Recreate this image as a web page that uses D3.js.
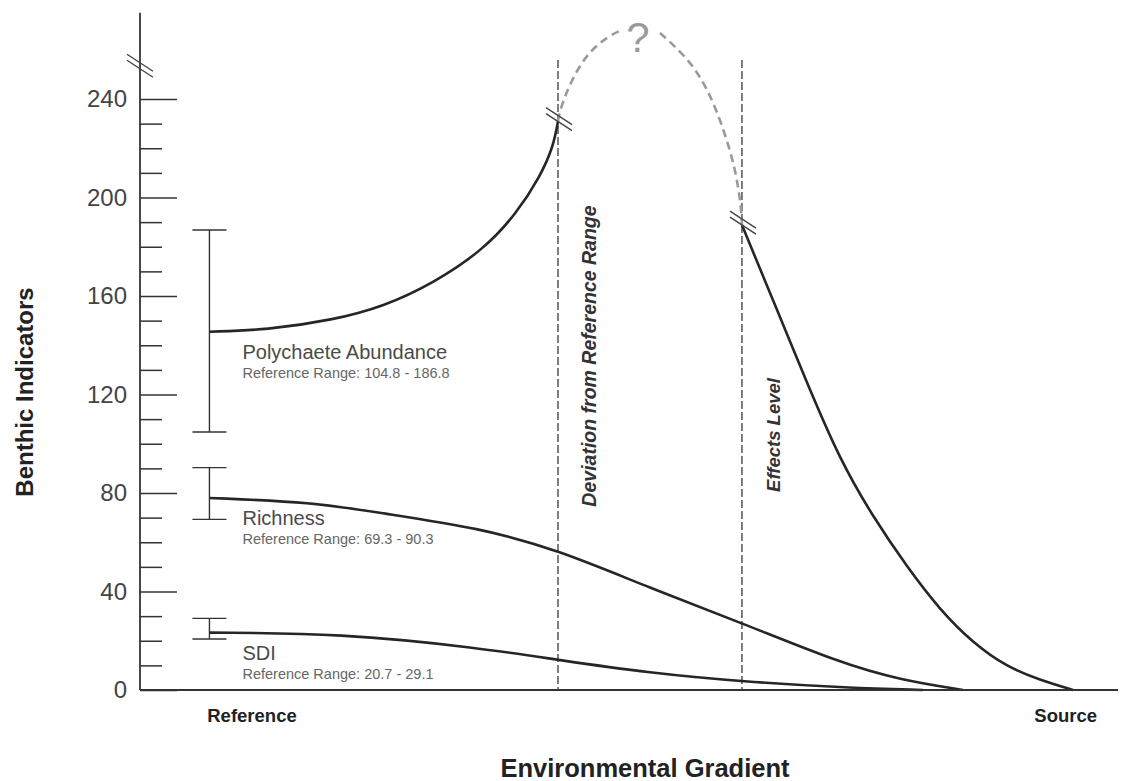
<!DOCTYPE html>
<html>
<head>
<meta charset="utf-8">
<title>Benthic Indicators</title>
<script src="https://cdn.jsdelivr.net/npm/d3@7"></script>
<style>
    body { margin: 0; background: #fff; }
    svg { display: block; font-family: "Liberation Sans", Arial, sans-serif; }
</style>
</head>
<body>
<div id="chartdiv"></div>
<script>
/*global d3 */

//gradient position (0 = far reference, 100 = past source) vs indicator value
var polyRise = [[7.1, 145.5], [12.95, 146.2], [19.77, 150.3], [24.88, 155.7],
                [30.0, 165.2], [35.11, 178.7], [38.52, 193.6], [40.9, 208.4],
                [42.26, 220.6], [42.74, 231]];
var polyFall = [[61.55, 188.8], [64.72, 158.4], [68.2, 124.7], [71.57, 93.4],
                [74.95, 70.3], [78.43, 50], [81.8, 32.5], [85.17, 19.1],
                [88.65, 9.3], [92.02, 4.1], [95.4, 0]];
var unknownLeft = [[42.74, 231], [42.94, 235.5], [43.97, 246.5], [45.71, 258.7],
                   [48.06, 266], [49.28, 268]];
var unknownRight = [[53.17, 266.8], [55.93, 257], [57.98, 244.9], [59.61, 228.6],
                    [60.84, 212.4], [61.45, 197], [61.55, 189]];
var richness = [[7.1, 78], [17.69, 76.3], [24.54, 71.9], [34.76, 65.8],
                [42.74, 56.9], [52.15, 41.4], [61.55, 27.2], [71.57, 11],
                [77.7, 4.1], [84.15, 0]];
var sdi = [[7.1, 23.3], [20.45, 23], [34.76, 17.1], [42.74, 12.2],
           [52.15, 6.9], [61.55, 3.4], [72.6, 0.8], [80.06, 0]];

var seriesNames = ["Polychaete Abundance", "Richness", "SDI"];
var refRanges = [[104.8, 186.8], [69.3, 90.3], [20.7, 29.1]];
var seriesStart = [145.5, 78, 23.3];
var refX = 7.1;
var deviationX = 42.74;
var effectsX = 61.55;
var breakPoints = [[42.74, 231], [61.55, 189]];
var majorTicks = [0, 40, 80, 120, 160, 200, 240];
var minorTicks = [10, 20, 30, 50, 60, 70, 90, 100, 110, 130, 140, 150,
                  170, 180, 190, 210, 220, 230];
var gradientLabels = ["Reference", "Source"];
var gradientLabelAt = [11.4, 94.6];


(function () {
    "use strict";

    var ch = {w: 1125, h: 781};

    function fmtRange (r) {
        return "Reference Range: " + r[0].toFixed(1) + " - " + r[1].toFixed(1);
    }


    //pair of short parallel slashes marking an axis/curve break
    function drawBreak (cx, cy) {
        var dx = 13, dy = 8.5;
        [-3, 3].forEach(function (off) {
            ch.svg.append("line")
                .attr("x1", cx - dx).attr("y1", cy - dy + off)
                .attr("x2", cx + dx).attr("y2", cy + dy + off)
                .attr("stroke", "#444").attr("stroke-width", 1.4);
        });
    }


    function drawAxes () {
        var yMajor, yMinor, xAx;
        ch.svg.append("line")  //y axis runs above 240 up to the break
            .attr("x1", ch.x(0)).attr("x2", ch.x(0))
            .attr("y1", ch.y(275)).attr("y2", ch.y(0))
            .attr("stroke", "#333").attr("stroke-width", 1.8);
        drawBreak(ch.x(0), ch.y(253.5));
        yMinor = d3.axisLeft(ch.y).tickValues(minorTicks)
            .tickSize(-22).tickFormat("");
        ch.svg.append("g").attr("class", "axis axis--minor")
            .attr("transform", "translate(" + ch.x(0) + ",0)")
            .call(yMinor);
        yMajor = d3.axisLeft(ch.y).tickValues(majorTicks)
            .tickSizeInner(-37).tickSizeOuter(0).tickPadding(13)
            .tickFormat(d3.format("d"));
        ch.svg.append("g").attr("class", "axis axis--major")
            .attr("transform", "translate(" + ch.x(0) + ",0)")
            .call(yMajor);
        ch.svg.selectAll(".axis--minor .domain, .axis--major .domain").remove();
        ch.svg.selectAll(".axis line")
            .attr("stroke", "#333").attr("stroke-width", 1.5);
        ch.svg.selectAll(".axis--major text")
            .attr("font-size", 24).attr("fill", "#444")
            .attr("font-family", "Liberation Sans, Arial, sans-serif");
        ch.svg.append("line")  //x axis
            .attr("x1", ch.x(0)).attr("x2", ch.x(100))
            .attr("y1", ch.y(0)).attr("y2", ch.y(0))
            .attr("stroke", "#333").attr("stroke-width", 1.8);
        xAx = d3.axisBottom(ch.x).tickValues(gradientLabelAt)
            .tickSize(0).tickPadding(19)
            .tickFormat(function (d, i) { return gradientLabels[i]; });
        ch.svg.append("g").attr("class", "xlabels")
            .attr("transform", "translate(0," + ch.y(0) + ")")
            .call(xAx);
        ch.svg.select(".xlabels .domain").remove();
        ch.svg.selectAll(".xlabels text")
            .attr("font-size", 18.5).attr("font-weight", "bold")
            .attr("fill", "#222")
            .attr("font-family", "Liberation Sans, Arial, sans-serif");
        ch.svg.append("text")
            .attr("transform", "translate(33,392) rotate(-90)")
            .attr("text-anchor", "middle")
            .attr("font-size", 24).attr("font-weight", "bold")
            .attr("fill", "#222")
            .text("Benthic Indicators");
        ch.svg.append("text")
            .attr("x", 645).attr("y", 777)
            .attr("text-anchor", "middle")
            .attr("font-size", 25.5).attr("font-weight", "bold")
            .attr("fill", "#222")
            .text("Environmental Gradient");
    }


    function drawGuides () {
        [[deviationX, "Deviation from Reference Range", 356, 19.5],
         [effectsX, "Effects Level", 435, 18.5]].forEach(function (g) {
            ch.svg.append("line")
                .attr("x1", ch.x(g[0])).attr("x2", ch.x(g[0]))
                .attr("y1", 60).attr("y2", ch.y(0))
                .attr("stroke", "#2a2a2a").attr("stroke-width", 1.2)
                .attr("stroke-dasharray", "8,3");
            ch.svg.append("text")
                .attr("transform", "translate(" + (ch.x(g[0]) + 38) + "," +
                      g[2] + ") rotate(-90)")
                .attr("text-anchor", "middle")
                .attr("font-size", g[3]).attr("font-weight", "bold")
                .attr("font-style", "italic").attr("fill", "#333")
                .text(g[1]);
        });
    }


    function drawSeries () {
        var line = d3.line()
            .x(function (d) { return ch.x(d[0]); })
            .y(function (d) { return ch.y(d[1]); })
            .curve(d3.curveBasis);
        [polyRise, polyFall, richness, sdi].forEach(function (pts) {
            ch.svg.append("path").datum(pts)
                .attr("d", line)
                .attr("fill", "none").attr("stroke", "#262626")
                .attr("stroke-width", 2.6);
        });
        [unknownLeft, unknownRight].forEach(function (pts) {
            ch.svg.append("path").datum(pts)
                .attr("d", line)
                .attr("fill", "none").attr("stroke", "#9a9a9a")
                .attr("stroke-width", 2.6)
                .attr("stroke-dasharray", "8,5");
        });
        ch.svg.append("text")
            .attr("x", 638).attr("y", 52)
            .attr("text-anchor", "middle")
            .attr("font-size", 42).attr("fill", "#9a9a9a")
            .text("?");
        breakPoints.forEach(function (bp) {
            drawBreak(ch.x(bp[0]) + 1, ch.y(bp[1]) - 2);
        });
    }


    function drawRefRanges () {
        var bx = ch.x(refX), half = 17;
        refRanges.forEach(function (r, i) {
            var g = ch.svg.append("g").attr("stroke", "#333")
                .attr("stroke-width", 1.4);
            g.append("line").attr("x1", bx).attr("x2", bx)
                .attr("y1", ch.y(r[0])).attr("y2", ch.y(r[1]));
            r.forEach(function (v) {
                g.append("line").attr("x1", bx - half).attr("x2", bx + half)
                    .attr("y1", ch.y(v)).attr("y2", ch.y(v));
            });
            ch.svg.append("text")
                .attr("x", bx + 33).attr("y", ch.y(seriesStart[i]) + 27)
                .attr("font-size", 20).attr("fill", "#4a4a4a")
                .text(seriesNames[i]);
            ch.svg.append("text")
                .attr("x", bx + 33).attr("y", ch.y(seriesStart[i]) + 46)
                .attr("font-size", 14.5).attr("fill", "#666")
                .text(fmtRange(r));
        });
    }


    function display () {
        ch.svg = d3.select("#chartdiv").append("svg")
            .attr("width", ch.w).attr("height", ch.h);
        ch.svg.append("rect").attr("width", ch.w).attr("height", ch.h)
            .attr("fill", "#fff");
        ch.x = d3.scaleLinear().domain([0, 100]).range([140, 1118]);
        ch.y = d3.scaleLinear().domain([0, 240]).range([690, 99]);
        drawGuides();
        drawRefRanges();
        drawSeries();
        drawAxes();
    }

    display();
}());
</script>
</body>
</html>
